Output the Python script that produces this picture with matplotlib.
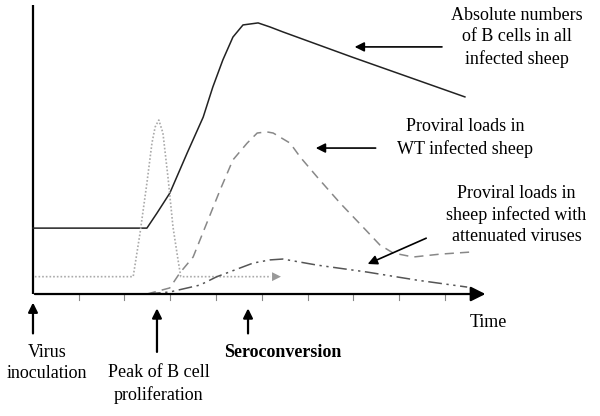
import matplotlib.pyplot as plt

plt.rcParams['font.family'] = ['Liberation Serif', 'DejaVu Serif']

# time in tick units after inoculation, level in arbitrary units (0-100)
bcell_t = [0, 2.49, 2.71, 2.99, 3.37, 3.72, 3.93, 4.15, 4.37, 4.59, 4.92, 5.18, 5.46, 6.97, 9.44]
bcell_y = [22.8, 22.8, 28.0, 34.9, 48.8, 61.2, 71.6, 81.0, 88.9, 93.1, 93.8, 92.4, 90.7, 82.0, 68.2]

prolif_t = [0.04, 2.19, 2.34, 2.49, 2.60, 2.67, 2.75, 2.84, 2.95, 3.06, 3.17, 3.23, 5.20]
prolif_y = [6.0, 6.0, 21.1, 38.4, 52.2, 57.8, 60.2, 55.7, 40.5, 23.2, 11.8, 6.0, 6.0]

wt_t = [2.49, 2.99, 3.21, 3.50, 3.80, 4.09, 4.37, 4.68, 4.90, 5.11, 5.25, 5.62, 5.84, 6.21,
        6.71, 7.21, 7.58, 7.87, 8.31, 8.90, 9.55]
wt_y = [0.0, 2.1, 7.3, 12.8, 24.6, 36.0, 46.4, 52.2, 55.7, 56.1, 55.7, 52.2, 47.4, 40.5,
        31.5, 23.2, 17.0, 14.2, 12.8, 13.8, 14.5]

att_t = [2.49, 2.99, 3.65, 4.02, 4.24, 4.81, 5.18, 5.46, 6.21, 7.30, 8.39, 9.49]
att_y = [0.0, 0.7, 3.1, 6.0, 7.3, 10.7, 11.8, 12.1, 10.0, 7.6, 4.8, 2.4]

tick_t = [1, 2, 3, 4, 5, 6, 7, 8, 9]

fig = plt.figure(figsize=(6, 4.16), dpi=100)
ax = fig.add_axes([0, 0, 1, 1])
ax.set_xlim(-0.721, 12.393)
ax.set_ylim(-42.21, 101.73)
ax.axis('off')

# axes
ax.plot([0, 0], [0, 100], color='black', lw=1.6, solid_capstyle='butt')
ax.annotate('', xy=(9.95, 0), xytext=(-0.02, 0),
            arrowprops=dict(arrowstyle='-|>', color='black', lw=1.6, mutation_scale=22))
for t in tick_t:
    ax.plot([t, t], [0, -2.2], color='#888888', lw=0.8)

# curves
ax.plot(bcell_t, bcell_y, color='#222222', lw=1.1)
ax.plot(prolif_t, prolif_y, color='#aaaaaa', lw=1.2, linestyle=(0, (1, 1.2)))
ax.annotate('', xy=(5.48, 6.0), xytext=(5.15, 6.0),
            arrowprops=dict(arrowstyle='-|>', color='#999999', lw=0, mutation_scale=16))
ax.plot(wt_t, wt_y, color='#888888', lw=1.1, linestyle=(0, (6, 4)))
ax.plot(att_t, att_y, color='#555555', lw=1.1, linestyle=(0, (9, 3, 1.5, 3, 1.5, 3)))

# labels on the right
fs = 13
ls = 1.32
ax.text(10.57, 88.8, 'Absolute numbers\nof B cells in all\ninfected sheep',
        ha='center', va='center', fontsize=fs, linespacing=ls)
ax.annotate('', xy=(6.97, 85.5), xytext=(9.0, 85.5),
            arrowprops=dict(arrowstyle='-|>', color='black', lw=1.2, mutation_scale=14))

ax.text(9.44, 54.0, 'Proviral loads in\nWT infected sheep',
        ha='center', va='center', fontsize=fs, linespacing=ls)
ax.annotate('', xy=(6.12, 50.5), xytext=(7.55, 50.5),
            arrowprops=dict(arrowstyle='-|>', color='black', lw=1.2, mutation_scale=14))

ax.text(10.57, 27.3, 'Proviral loads in\nsheep infected with\nattenuated viruses',
        ha='center', va='center', fontsize=fs, linespacing=ls)
ax.annotate('', xy=(7.26, 10.0), xytext=(8.65, 19.7),
            arrowprops=dict(arrowstyle='-|>', color='black', lw=1.2, mutation_scale=14))

ax.text(9.55, -10.0, 'Time', ha='left', va='center', fontsize=fs)

# events below the time axis
ax.annotate('', xy=(0, -2.0), xytext=(0, -14.6),
            arrowprops=dict(arrowstyle='-|>', color='black', lw=1.6, mutation_scale=14))
ax.text(0.31, -24.0, 'Virus\ninoculation', ha='center', va='center', fontsize=fs,
        linespacing=ls)

ax.annotate('', xy=(2.71, -4.0), xytext=(2.71, -21.0),
            arrowprops=dict(arrowstyle='-|>', color='black', lw=1.6, mutation_scale=14))
ax.text(2.75, -31.1, 'Peak of B cell\nproliferation', ha='center', va='center', fontsize=fs,
        linespacing=ls)

ax.annotate('', xy=(4.7, -4.0), xytext=(4.7, -14.6),
            arrowprops=dict(arrowstyle='-|>', color='black', lw=1.6, mutation_scale=14))
ax.text(5.46, -20.4, 'Seroconversion', ha='center', va='center', fontsize=fs,
        fontweight='bold')

fig.savefig('out.png', dpi=100)
